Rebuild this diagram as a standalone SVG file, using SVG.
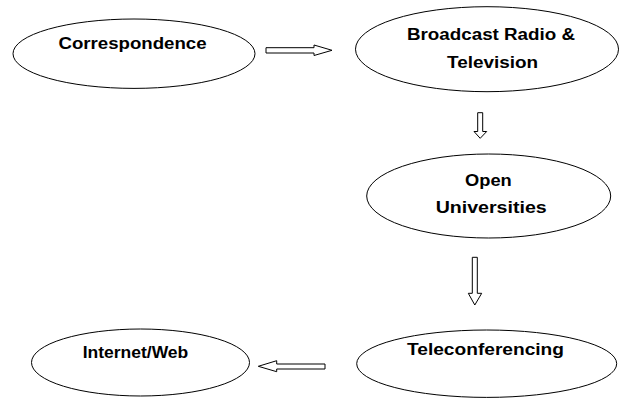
<svg xmlns="http://www.w3.org/2000/svg" width="619" height="399" viewBox="0 0 619 399">
<style>
.n{fill:#fff;stroke:#000;stroke-width:1}
.t{font-family:"Liberation Sans",Arial,sans-serif;font-weight:bold;font-size:16px;fill:#000}
.a{fill:#fff;stroke:#000;stroke-width:1}
</style>
<rect width="619" height="399" fill="#fff"/>
<g id="connectors">
<polygon class="a" points="266,47.7 314,47.7 314,45 332,50.3 314,55.5 314,53 266,53"/>
<polygon class="a" points="477.7,112.7 482.7,112.7 482.7,131.5 486.7,131.5 480.2,138.3 474,131.5 477.7,131.5"/>
<polygon class="a" points="472.3,257.3 477.3,257.3 477.3,293.3 481.7,293.3 474.8,305 468.3,293.3 472.3,293.3"/>
<polygon class="a" points="325,364 276.7,364 276.7,360.7 258.3,366.3 276.7,371.7 276.7,369 325,369"/>
</g>
<g id="correspondence">
<ellipse class="n" cx="134" cy="53.7" rx="121" ry="34.7"/>
<text class="t" x="58.5" y="49" textLength="148" lengthAdjust="spacingAndGlyphs">Correspondence</text>
</g>
<g id="broadcast">
<ellipse class="n" cx="487" cy="49.2" rx="131.5" ry="42.5"/>
<text class="t" x="407" y="40" textLength="168" lengthAdjust="spacingAndGlyphs">Broadcast Radio &amp;</text>
<text class="t" x="447" y="68.3" textLength="91" lengthAdjust="spacingAndGlyphs">Television</text>
</g>
<g id="open-universities">
<ellipse class="n" cx="488.7" cy="196" rx="122" ry="42"/>
<text class="t" x="465" y="185.5" textLength="46.7" lengthAdjust="spacingAndGlyphs">Open</text>
<text class="t" x="435.7" y="213.3" textLength="111" lengthAdjust="spacingAndGlyphs">Universities</text>
</g>
<g id="teleconferencing">
<ellipse class="n" cx="486.7" cy="363.7" rx="130" ry="33.7"/>
<text class="t" x="407" y="355" textLength="157" lengthAdjust="spacingAndGlyphs">Teleconferencing</text>
</g>
<g id="internet-web">
<ellipse class="n" cx="140.5" cy="362.5" rx="109" ry="33.5"/>
<text class="t" x="82.7" y="358.3" textLength="105.6" lengthAdjust="spacingAndGlyphs">Internet/Web</text>
</g>
</svg>
